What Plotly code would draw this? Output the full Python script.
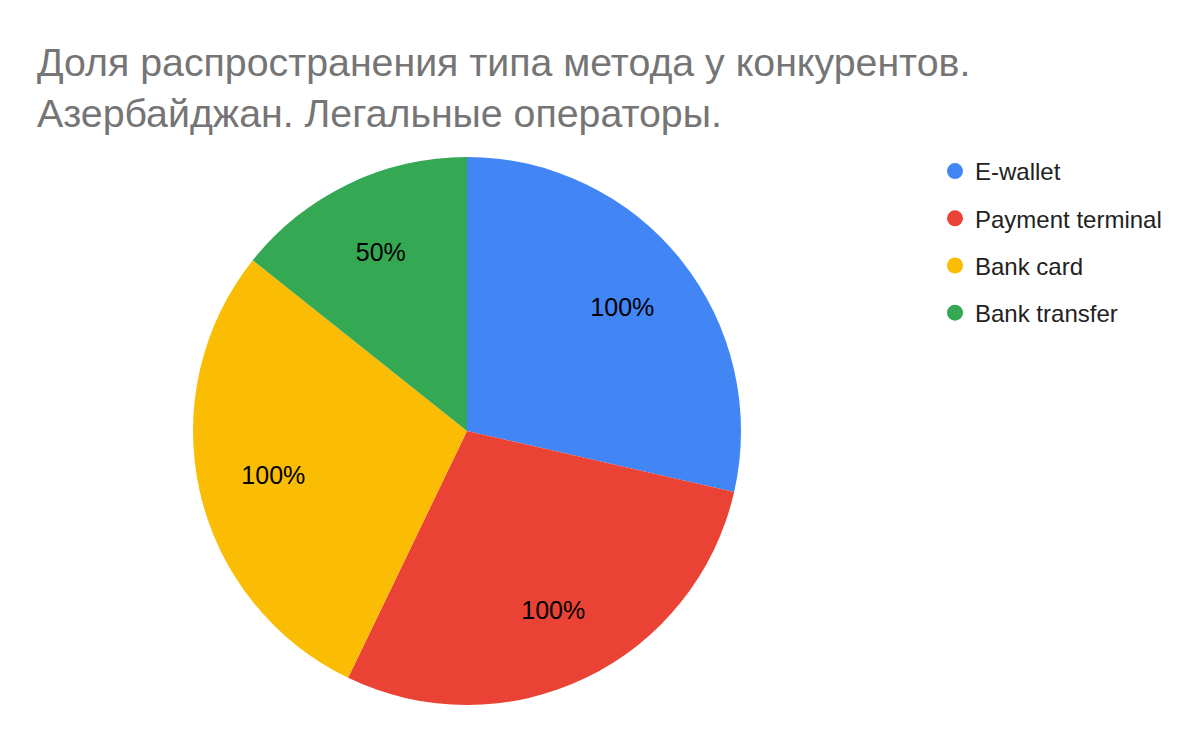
import plotly.graph_objects as go

categories = ['E-wallet', 'Payment terminal', 'Bank card', 'Bank transfer']
values = [100, 100, 100, 50]
colors = ['#4285F4', '#EA4335', '#FBBC04', '#34A853']

title = 'Доля распространения типа метода у конкурентов.<br>Азербайджан. Легальные операторы.'

W, H = 1200, 742
cx, cy, r = 459, 423, 274   # page has an 8px body margin
dom = dict(x=[(cx - r) / W, (cx + r) / W],
           y=[(H - cy - r) / H, (H - cy + r) / H])

fig = go.Figure()

fig.add_trace(go.Pie(labels=categories,
                     values=values,
                     sort=False,
                     direction='clockwise',
                     rotation=0,
                     marker=dict(colors=colors, line=dict(width=0)),
                     textinfo='none',
                     domain=dom,
                     showlegend=False,
                     hoverinfo='label+value'))

# transparent ring on top, only to push the value labels out toward the rim
fig.add_trace(go.Pie(labels=categories,
                     values=values,
                     sort=False,
                     direction='clockwise',
                     rotation=0,
                     hole=0.45,
                     marker=dict(colors=['rgba(0,0,0,0)'] * len(values), line=dict(width=0)),
                     texttemplate='%{value}%',
                     textposition='inside',
                     insidetextorientation='horizontal',
                     textfont=dict(size=25, color='#000000', family='Liberation Sans, Arial'),
                     domain=dom,
                     showlegend=False,
                     hoverinfo='skip'))

# legend entries as empty traces so the rows can be spaced out
for name, c in zip(categories, colors):
    fig.add_trace(go.Scatter(x=[None], y=[None], mode='markers', name=name,
                             legendgroup=name,
                             marker=dict(size=24, color=c, symbol='circle')))

fig.add_annotation(text=title, xref='paper', yref='paper',
                   x=27 / W, xanchor='left', y=1 - 30 / H, yanchor='top',
                   align='left', showarrow=False,
                   font=dict(size=39.3, color='#757575', family='Liberation Sans, Arial'))

fig.update_layout(width=W, height=H,
                  margin=dict(l=0, r=0, t=0, b=0),
                  paper_bgcolor='white',
                  plot_bgcolor='white',
                  font_family='Liberation Sans, Arial',
                  xaxis=dict(visible=False),
                  yaxis=dict(visible=False),
                  legend=dict(x=927 / W, xanchor='left', y=1 - 141 / H, yanchor='top',
                              traceorder='grouped', tracegroupgap=13,
                              font=dict(size=24, color='#222222'),
                              itemsizing='trace'))

fig.write_html("out.html")
